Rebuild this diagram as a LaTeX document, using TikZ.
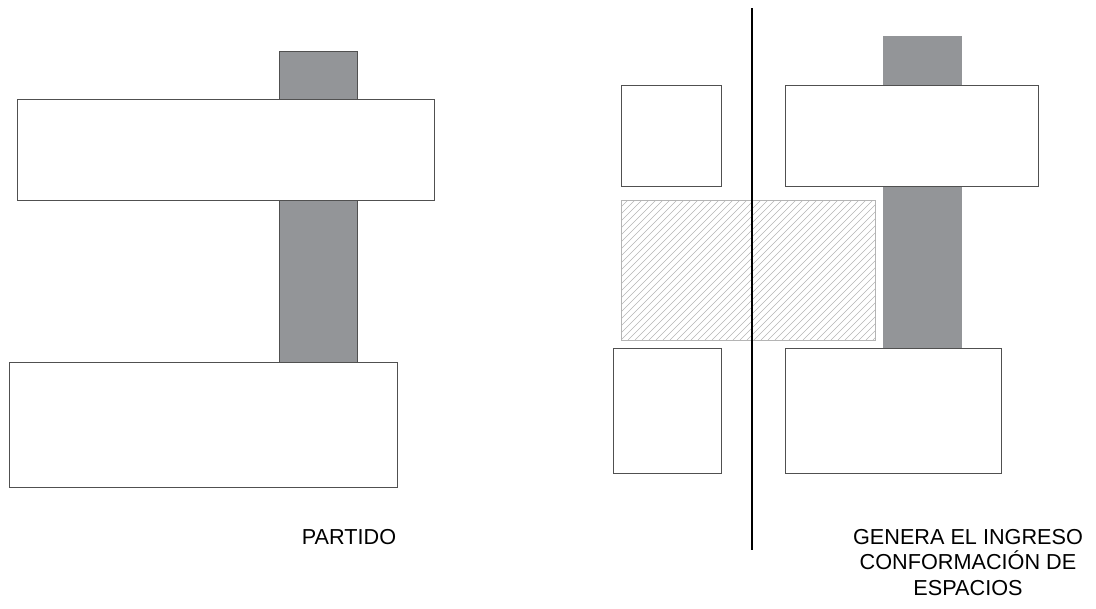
\documentclass[tikz,border=0pt]{standalone}
\usepackage{fontspec}
\setmainfont{Liberation Sans}
\usepackage{tikz}
\definecolor{bargray}{HTML}{939598}
\definecolor{edgegray}{HTML}{505050}
\definecolor{hatchgray}{HTML}{B4B4B4}

\begin{document}
\begin{tikzpicture}[
  x=0.025cm, y=-0.025cm,
  bar/.style={fill=bargray, draw=edgegray, line width=0.7pt},
  barplain/.style={fill=bargray, draw=none},
  block/.style={fill=white, draw=edgegray, line width=0.7pt},
  hatchline/.style={draw=hatchgray, line width=0.45pt},
  axis/.style={draw=black, line width=2pt},
  caption/.style={font=\fontsize{15.4}{17.8}\selectfont, align=center, inner sep=0pt}
]
\useasboundingbox (0,0) rectangle (1096,608);

%% ---- partido (left) -------------------------------------------------------
\draw[bar]   (279,51)  rectangle (357,362);
\draw[block] (17,99)   rectangle (434,200);
\draw[block] (9,362)   rectangle (397,487);
\node[caption] (partido) at (349,537) {PARTIDO};

%% ---- ingreso (right) ------------------------------------------------------
\fill[barplain] (883,36) rectangle (962,348);
\draw[block] (621,85)  rectangle (721,186);
\draw[block] (785,85)  rectangle (1038,186);
\draw[block] (613,348) rectangle (721,473);
\draw[block] (785,348) rectangle (1001,473);

%% hatched access zone, clipped to its frame
\begin{scope}
  \clip (621,200) rectangle (875,340);
  \foreach \k in {481,488,...,875}
    \draw[hatchline] (\k,340) -- ++(140,-140);
\end{scope}
\draw[draw=hatchgray, line width=0.7pt] (621,200) rectangle (875,340);

\coordinate (axtop) at (752,8);
\coordinate (axbot) at (752,550);
\draw[axis] (axtop) -- (axbot);

\node[caption] (ingreso) at (968,562.5)
  {GENERA EL INGRESO\\CONFORMACIÓN DE\\ESPACIOS};

\end{tikzpicture}
\end{document}
